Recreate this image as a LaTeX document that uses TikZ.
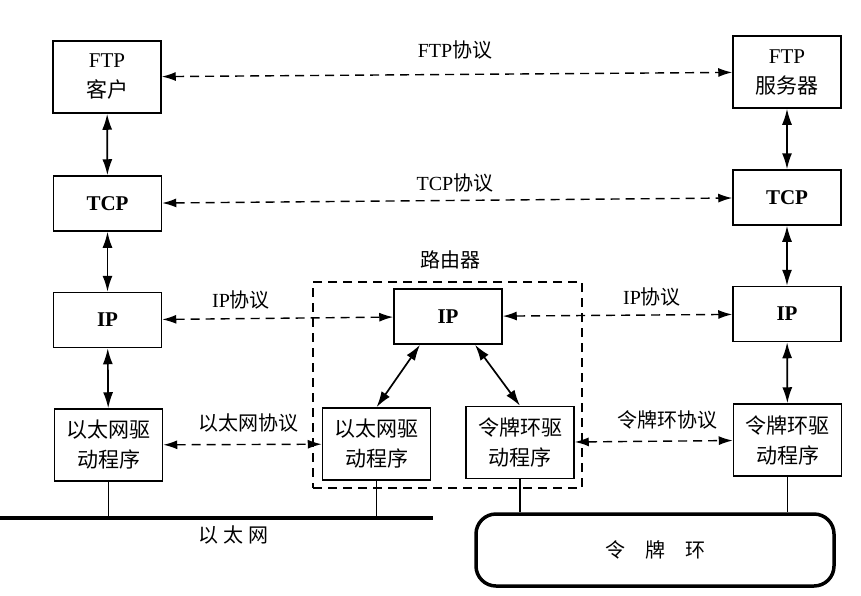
\documentclass[tikz,border=0pt]{standalone}
\usepackage{fontspec}
\setmainfont{Liberation Serif}
\newfontfamily\cjk{Noto Sans CJK SC}
\usetikzlibrary{arrows.meta,calc}
\begin{document}
\begin{tikzpicture}[x=1pt,y=-1pt,
  box/.style={draw, line width=1.5pt, minimum width=108pt, minimum height=55pt,
    inner sep=0pt, align=center, font=\fontsize{21}{30}\selectfont},
  tallbox/.style={box, minimum height=72pt},
  layerarrow/.style={line width=1.7pt, {Latex[length=16pt,width=10pt]}-{Latex[length=16pt,width=10pt]}},
  peerarrow/.style={line width=1.4pt, dash pattern=on 9pt off 6pt, {Latex[length=14pt,width=9pt]}-{Latex[length=14pt,width=9pt]}},
  lbl/.style={inner sep=0pt, font=\fontsize{20}{24}\selectfont},
  stem/.style={line width=1.3pt}
]
\useasboundingbox (0,0) rectangle (861,595);

% left host
\node[tallbox] (lftp) at (107,77) {FTP\\{\cjk 客户}};
\node[box] (ltcp) at (107.5,203.5) {\textbf{TCP}};
\node[box] (lip) at (107.5,320) {\textbf{IP}};
\node[tallbox] (leth) at (108.5,445) {{\cjk 以太网驱}\\{\cjk 动程序}};

% right host
\node[tallbox] (rftp) at (787,72) {FTP\\{\cjk 服务器}};
\node[box] (rtcp) at (787,197.5) {\textbf{TCP}};
\node[box] (rip) at (787,314) {\textbf{IP}};
\node[tallbox] (rtok) at (787.5,440) {{\cjk 令牌环驱}\\{\cjk 动程序}};

% router
\node[draw, line width=1.4pt, dash pattern=on 9pt off 6pt, minimum width=269pt, minimum height=206pt, inner sep=0pt] (router) at (447.5,385) {};
\node[lbl] (routerlbl) at (450,260) {\cjk 路由器};
\node[box] (mip) at (448,316.5) {\textbf{IP}};
\node[tallbox] (meth) at (376.5,444) {{\cjk 以太网驱}\\{\cjk 动程序}};
\node[tallbox] (mtok) at (520,442.5) {{\cjk 令牌环驱}\\{\cjk 动程序}};

% layer arrows
\draw[layerarrow] (lftp) -- (ltcp);
\draw[layerarrow] (ltcp) -- (lip);
\draw[layerarrow] (lip) -- (leth);
\draw[layerarrow] (rftp) -- (rtcp);
\draw[layerarrow] (rtcp) -- (rip);
\draw[layerarrow] (rip) -- (rtok);
\draw[layerarrow] ($(mip.south)+(-28,0)$) -- (meth.north);
\draw[layerarrow] ($(mip.south)+(27,0)$) -- (mtok.north);

% peer arrows
\draw[peerarrow] (lftp) -- (rftp);
\draw[peerarrow] (ltcp) -- (rtcp);
\draw[peerarrow] (lip) -- (mip);
\draw[peerarrow] (mip) -- (rip);
\draw[peerarrow] (leth) -- (meth);
\draw[peerarrow] (mtok) -- (rtok);

% peer labels
\node[lbl] (ftpl) at (455,50) {FTP{\cjk 协议}};
\node[lbl] (tcpl) at (455,183) {TCP{\cjk 协议}};
\node[lbl] (ipl1) at (241,300) {IP{\cjk 协议}};
\node[lbl] (ipl2) at (652,297) {IP{\cjk 协议}};
\node[lbl] (ethl) at (248,423) {\cjk 以太网协议};
\node[lbl] (tokl) at (667,420) {\cjk 令牌环协议};

% ethernet
\coordinate (e0) at (0,518);
\coordinate (e1) at (433,518);
\draw[line width=4pt] (e0) -- (e1);
\node[lbl] (ethnet) at (233,535) {\cjk 以\hspace{5pt}太\hspace{5pt}网};
\draw[stem] (leth.south) -- (leth.south |- e0);
\draw[stem] (meth.south) -- (meth.south |- e0);

% token ring
\node[draw, line width=3.5pt, rounded corners=20pt, minimum width=358pt, minimum height=72pt, inner sep=0pt, font=\fontsize{20}{24}\selectfont] (ring) at (655,550) {\cjk 令\hspace{20pt}牌\hspace{20pt}环};
\draw[stem] (mtok.south) -- (mtok.south |- ring.north);
\draw[stem] (rtok.south) -- (rtok.south |- ring.north);
\end{tikzpicture}
\end{document}
